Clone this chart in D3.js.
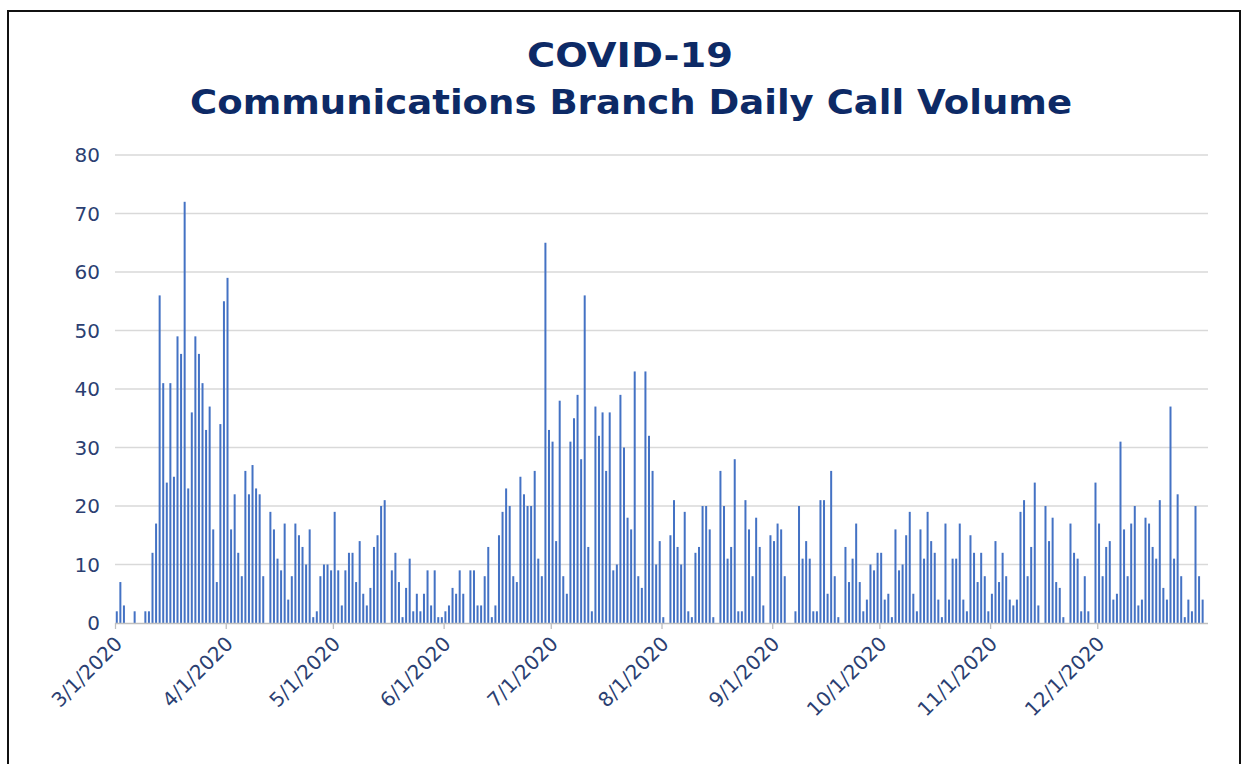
<!DOCTYPE html>
<html>
<head>
<meta charset="utf-8">
<script src="https://cdn.jsdelivr.net/npm/d3@7"></script>
<style>
  body { margin: 0; background: #fff; }
  svg { display: block; }
</style>
</head>
<body>
<script>
// daily call counts, one array per month
var mar = [2,7,3,0,0,2,0,0,2,2,12,17,56,41,24,41,25,49,46,72,23,36,49,46,41,33,37,16,7,34,55];
var apr = [59,16,22,12,8,26,22,27,23,22,8,0,19,16,11,9,17,4,8,17,15,13,10,16,1,2,8,10,10,9];
var may = [19,9,3,9,12,12,7,14,5,3,6,13,15,20,21,0,9,12,7,1,6,11,2,5,2,5,9,3,9,1,1];
var jun = [2,3,6,5,9,5,0,9,9,3,3,8,13,1,3,15,19,23,20,8,7,25,22,20,20,26,11,8,65,33];
var jul = [31,14,38,8,5,31,35,39,28,56,13,2,37,32,36,26,36,9,10,39,30,18,16,43,8,6,43,32,26,10,14];
var aug = [1,0,15,21,13,10,19,2,1,12,13,20,20,16,1,0,26,20,11,13,28,2,2,21,16,8,18,13,3,0,15];
var sep = [14,17,16,8,0,0,2,20,11,14,11,2,2,21,21,5,26,8,1,0,13,7,11,17,7,2,4,10,9,12];
var oct = [12,4,5,1,16,9,10,15,19,5,2,16,11,19,14,12,4,1,17,4,11,11,17,4,2,15,12,7,12,8,2];
var nov = [5,14,7,12,8,4,3,4,19,21,8,13,24,3,0,20,14,18,7,6,1,0,17,12,11,2,8,2,0,24];
var dec = [17,8,13,14,4,5,31,16,8,17,20,3,4,18,17,13,11,21,6,4,37,11,22,8,1,4,2,20,8,4,0];

var yTicks = [0, 10, 20, 30, 40, 50, 60, 70, 80];
var titleLines = ['COVID-19', 'Communications Branch Daily Call Volume'];

var width = 1250, height = 764;
var start = new Date(2020, 2, 1), end = new Date(2021, 0, 1);
var font = 'DejaVu Sans, Verdana, sans-serif';
var textColor = '#2b3f72';

var data = [];
[mar, apr, may, jun, jul, aug, sep, oct, nov, dec].forEach(function(arr, m) {
  arr.forEach(function(v, i) {
    data.push({ date: new Date(2020, 2 + m, i + 1), value: v });
  });
});

var svg = d3.select('body').append('svg')
  .attr('width', width)
  .attr('height', height);

svg.append('rect')
  .attr('x', 8).attr('y', 11)
  .attr('width', 1232).attr('height', 770)
  .attr('fill', '#fff')
  .attr('stroke', '#111')
  .attr('stroke-width', 2);

var x = d3.scaleTime().domain([start, end]).range([115, 1208]);
var y = d3.scaleLinear().domain([0, 80]).range([623, 155]);
var dayW = x(new Date(2020, 2, 2)) - x(start);
var barW = 2;

// gridlines
svg.append('g').selectAll('line')
  .data(yTicks.slice(1))
  .enter().append('line')
  .attr('x1', 115).attr('x2', 1208)
  .attr('y1', function(d) { return y(d); })
  .attr('y2', function(d) { return y(d); })
  .attr('stroke', '#d9d9d9')
  .attr('stroke-width', 1.3);

// y labels
svg.append('g').selectAll('text')
  .data(yTicks)
  .enter().append('text')
  .attr('x', 100)
  .attr('y', function(d) { return y(d) + 7; })
  .attr('text-anchor', 'end')
  .attr('fill', textColor)
  .style('font-family', font)
  .style('font-size', '20px')
  .text(function(d) { return d; });

// bars
svg.append('g').selectAll('rect')
  .data(data.filter(function(d) { return d.value > 0; }))
  .enter().append('rect')
  .attr('x', function(d) { return x(d.date) + (dayW - barW) / 2; })
  .attr('y', function(d) { return y(d.value); })
  .attr('width', barW)
  .attr('height', function(d) { return y(0) - y(d.value); })
  .attr('fill', '#4472c4');

// x axis
var fmt = function(d) { return (d.getMonth() + 1) + '/' + d.getDate() + '/' + d.getFullYear(); };
var xAxis = svg.append('g')
  .attr('transform', 'translate(0,' + y(0) + ')')
  .call(d3.axisBottom(x)
    .ticks(d3.timeMonth.every(1))
    .tickSize(6)
    .tickFormat(fmt));

xAxis.select('.domain').attr('stroke', '#bfbfbf').attr('stroke-width', 1.3)
  .attr('d', 'M115,0.5H1208');
xAxis.selectAll('.tick line').attr('stroke', '#bfbfbf').attr('stroke-width', 1.3);
xAxis.selectAll('.tick')
  .filter(function(d) { return d >= end; })
  .remove();
xAxis.selectAll('.tick text')
  .attr('fill', textColor)
  .style('font-family', font)
  .style('font-size', '20px')
  .attr('text-anchor', 'end')
  .attr('x', 0).attr('y', 0).attr('dy', 0)
  .attr('transform', 'translate(8,22) rotate(-45)');

// title
svg.append('text')
  .attr('x', 630).attr('y', 67)
  .attr('text-anchor', 'middle')
  .attr('fill', '#0d2a66')
  .attr('textLength', 206)
  .attr('lengthAdjust', 'spacingAndGlyphs')
  .style('font-family', font)
  .style('font-weight', 'bold')
  .style('font-size', '33px')
  .text(titleLines[0]);

svg.append('text')
  .attr('x', 631).attr('y', 114)
  .attr('text-anchor', 'middle')
  .attr('fill', '#0d2a66')
  .attr('textLength', 882)
  .attr('lengthAdjust', 'spacingAndGlyphs')
  .style('font-family', font)
  .style('font-weight', 'bold')
  .style('font-size', '33px')
  .text(titleLines[1]);
</script>
</body>
</html>
